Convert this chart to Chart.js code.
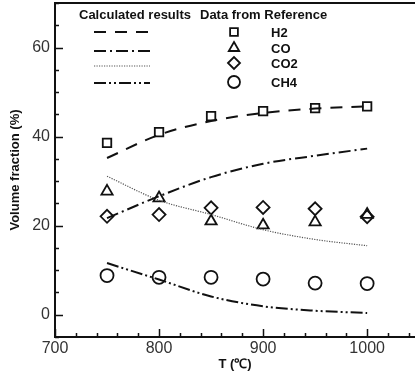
<!DOCTYPE html>
<html>
<head>
<meta charset="utf-8">
<script src="https://cdn.jsdelivr.net/npm/chart.js@4.4.1/dist/chart.umd.min.js"></script>
<style>
  html, body { margin: 0; padding: 0; background: #fff; }
  #wrap { width: 415px; height: 376px; }
</style>
</head>
<body>
<div id="wrap"><canvas id="c" width="415" height="376"></canvas></div>
<script>
// ---- data ----
const temps = [750, 800, 850, 900, 950, 1000];
const calcH2  = [35.2, 40.4, 43.5, 45.3, 46.3, 46.8];
const calcCO  = [21.7, 26.6, 30.9, 33.9, 35.7, 37.3];
const calcCO2 = [31.1, 25.7, 22.5, 19.1, 16.9, 15.5];
const calcCH4 = [11.6, 7.9, 4.1, 1.9, 0.9, 0.4];
const refH2  = [38.6, 41.0, 44.6, 45.7, 46.4, 46.8];
const refCO  = [27.7, 26.2, 21.0, 20.1, 20.8, 22.5];
const refCO2 = [22.1, 22.5, 24.0, 24.1, 23.8, 22.0];
const refCH4 = [8.8, 8.4, 8.4, 8.0, 7.1, 7.0];
const xTicks = [700, 800, 900, 1000];
const yTicks = [0, 20, 40, 60];
const seriesNames = ['H2', 'CO', 'CO2', 'CH4'];
const legendHeaders = ['Calculated results', 'Data from Reference'];
const xTitle = 'T (\u2103)';
const yTitle = 'Volume fraction (%)';

// ---- styles ----
const INK = '#111';
const dashStyles = [[12, 9], [12, 4, 2, 4], [1.2, 1.3], [12, 3, 2, 3, 2, 3]];
const lineWidths = [2, 2, 1.2, 2];
const lineColors = [INK, INK, '#555', INK];
const markerStyles = ['rect', 'triangle', 'rectRot', 'circle'];
const markerRadius = [6, 6.5, 6.5, 6.5];
const FONT = '"Liberation Sans", Arial, sans-serif';

const pts = arr => temps.map((t, i) => ({x: t, y: arr[i]}));
const calc = [calcH2, calcCO, calcCO2, calcCH4];
const refs = [refH2, refCO, refCO2, refCH4];

const datasets = [];
calc.forEach((arr, i) => datasets.push({
  label: 'calc ' + seriesNames[i], data: pts(arr), showLine: true,
  borderColor: lineColors[i], borderWidth: lineWidths[i], borderDash: dashStyles[i],
  pointRadius: 0, cubicInterpolationMode: 'monotone', fill: false
}));
refs.forEach((arr, i) => datasets.push({
  label: 'ref ' + seriesNames[i], data: pts(arr), showLine: false,
  pointStyle: markerStyles[i], pointRadius: markerRadius[i], pointBorderWidth: 1.8,
  pointBorderColor: INK, pointBackgroundColor: 'rgba(0,0,0,0)'
}));

const decor = {
  id: 'decor',
  afterDraw(chart) {
    const ctx = chart.ctx, a = chart.chartArea;
    const xs = chart.scales.x, ys = chart.scales.y;
    ctx.save();
    ctx.strokeStyle = INK;
    // top frame line
    ctx.lineWidth = 2;
    ctx.beginPath(); ctx.moveTo(a.left - 1, a.top); ctx.lineTo(chart.width, a.top); ctx.stroke();
    // inward tick marks
    ctx.lineWidth = 1.5;
    ctx.beginPath();
    for (let v = xs.min; v <= xs.max; v += 20) {
      const px = Math.round(xs.getPixelForValue(v)) + 0.5;
      const major = xTicks.includes(v);
      ctx.moveTo(px, a.bottom); ctx.lineTo(px, a.bottom - (major ? 8 : 4));
    }
    for (let v = ys.min; v <= ys.max; v += 5) {
      const py = Math.round(ys.getPixelForValue(v)) + 0.5;
      const major = yTicks.includes(v);
      ctx.moveTo(a.left, py); ctx.lineTo(a.left + (major ? 8 : 4), py);
    }
    ctx.stroke();
    // legend
    ctx.fillStyle = INK;
    ctx.font = 'bold 13px ' + FONT;
    ctx.textBaseline = 'middle';
    ctx.textAlign = 'left';
    ctx.fillText(legendHeaders[0], 79, 15);
    ctx.fillText(legendHeaders[1], 200, 15);
    const lineY = [32, 51, 66, 83];
    const markY = [32, 48, 63, 82];
    for (let i = 0; i < 4; i++) {
      ctx.save();
      ctx.strokeStyle = lineColors[i];
      ctx.lineWidth = lineWidths[i];
      ctx.setLineDash(dashStyles[i]);
      ctx.beginPath(); ctx.moveTo(94, lineY[i]); ctx.lineTo(150, lineY[i]); ctx.stroke();
      ctx.restore();
      ctx.save();
      ctx.strokeStyle = INK; ctx.lineWidth = 1.8; ctx.fillStyle = 'rgba(0,0,0,0)';
      Chart.helpers.drawPoint(ctx, {pointStyle: markerStyles[i], radius: markerRadius[i] - 0.5, borderWidth: 1.8}, 234, markY[i]);
      ctx.restore();
      ctx.fillStyle = INK;
      ctx.fillText(seriesNames[i], 271, markY[i] + 1);
    }
    ctx.restore();
  }
};

new Chart(document.getElementById('c'), {
  type: 'scatter',
  data: { datasets },
  options: {
    responsive: false, animation: false, devicePixelRatio: 1,
    layout: { autoPadding: false, padding: { top: 3, left: 0, right: 0, bottom: 0 } },
    plugins: { legend: { display: false }, tooltip: { enabled: false } },
    scales: {
      x: {
        type: 'linear', min: 700, max: 1046,
        afterFit(s) { s.height = 39; s.paddingLeft = 0; s.paddingRight = 0; },
        afterBuildTicks(s) { s.ticks = xTicks.map(v => ({value: v})); },
        grid: { display: false, drawTicks: false },
        border: { display: true, color: INK, width: 2 },
        ticks: { color: '#333', font: { family: FONT, size: 16 }, padding: 2, maxRotation: 0, callback: v => String(v) },
        title: { display: true, text: xTitle, color: INK, font: { family: FONT, size: 13, weight: 'bold' }, padding: { top: 0, bottom: 4 } }
      },
      y: {
        type: 'linear', min: -5, max: 70,
        afterFit(s) { s.width = 55; s.paddingTop = 0; s.paddingBottom = 0; },
        afterBuildTicks(s) { s.ticks = yTicks.map(v => ({value: v})); },
        grid: { display: false, drawTicks: false },
        border: { display: true, color: INK, width: 2 },
        ticks: { color: '#333', font: { family: FONT, size: 16 }, padding: 5, callback: v => String(v) },
        title: { display: true, text: yTitle, color: INK, font: { family: FONT, size: 13, weight: 'bold' }, padding: { top: 8, bottom: 0 } }
      }
    }
  },
  plugins: [decor]
});
</script>
</body>
</html>
